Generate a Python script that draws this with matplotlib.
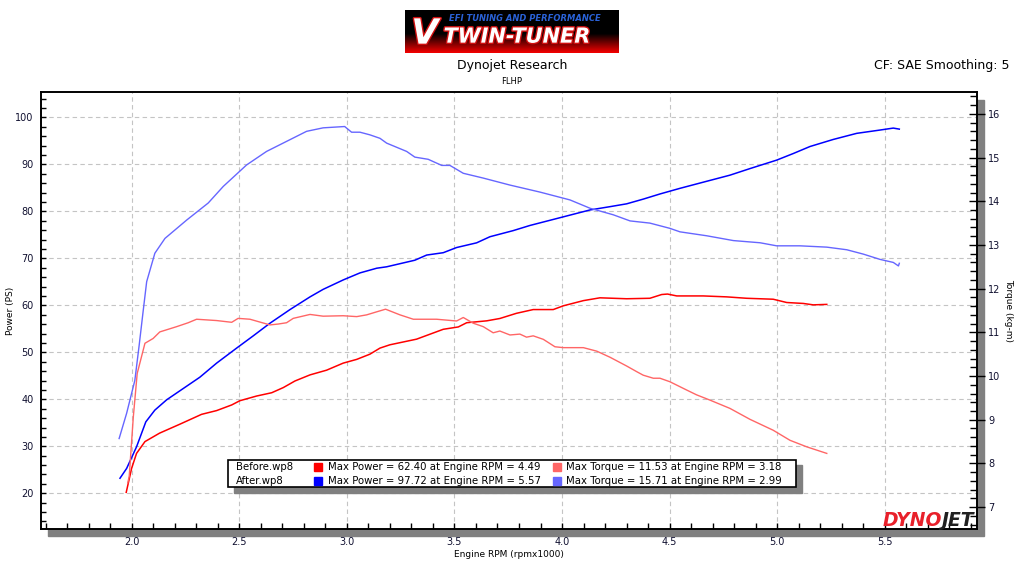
import numpy as np
import matplotlib
matplotlib.use("Agg")
import matplotlib.pyplot as plt
import matplotlib.patheffects as pe
from matplotlib.patches import Rectangle
from matplotlib.ticker import MultipleLocator

# Before run: engine rpm (x1000), power (PS) and torque (kg-m)
before_power_rpm = [1.975, 2.0, 2.023, 2.062, 2.13, 2.224, 2.325, 2.395, 2.465, 2.503,
                    2.581, 2.651, 2.705, 2.759, 2.829, 2.906, 2.983, 3.046, 3.107, 3.154,
                    3.2, 3.324, 3.448, 3.518, 3.557, 3.65, 3.711, 3.788, 3.866, 3.959,
                    4.006, 4.099, 4.176, 4.3, 4.408, 4.463, 4.49, 4.533, 4.656, 4.765,
                    4.858, 4.981, 5.044, 5.121, 5.167, 5.23]
before_power = [20.2, 25.3, 28.5, 31.0, 32.8, 34.7, 36.8, 37.6, 38.8, 39.7,
                40.7, 41.4, 42.5, 43.9, 45.2, 46.2, 47.7, 48.5, 49.6, 50.9,
                51.6, 52.8, 54.9, 55.4, 56.3, 56.7, 57.2, 58.3, 59.1, 59.1,
                59.9, 61.0, 61.6, 61.4, 61.5, 62.3, 62.4, 62.0, 62.0, 61.8,
                61.5, 61.3, 60.6, 60.4, 60.1, 60.2]

before_torque_rpm = [1.982, 1.989, 2.008, 2.026, 2.062, 2.1, 2.131, 2.209, 2.263, 2.302,
                     2.395, 2.465, 2.495, 2.55, 2.643, 2.681, 2.72, 2.751, 2.829, 2.89,
                     2.983, 3.046, 3.092, 3.139, 3.18, 3.247, 3.309, 3.417, 3.51, 3.541,
                     3.587, 3.634, 3.68, 3.711, 3.758, 3.804, 3.835, 3.866, 3.913, 3.967,
                     4.006, 4.099, 4.161, 4.223, 4.3, 4.347, 4.377, 4.424, 4.455, 4.501,
                     4.579, 4.625, 4.687, 4.78, 4.873, 4.981, 5.059, 5.137, 5.23]
before_torque = [7.55, 7.71, 9.07, 10.06, 10.75, 10.86, 11.01, 11.13, 11.22, 11.30,
                 11.27, 11.23, 11.32, 11.30, 11.17, 11.19, 11.22, 11.32, 11.41, 11.37,
                 11.38, 11.36, 11.40, 11.47, 11.53, 11.40, 11.30, 11.30, 11.26, 11.34,
                 11.21, 11.13, 10.99, 11.03, 10.94, 10.96, 10.89, 10.92, 10.84, 10.67,
                 10.65, 10.65, 10.57, 10.43, 10.23, 10.10, 10.02, 9.95, 9.95, 9.87,
                 9.68, 9.57, 9.45, 9.26, 9.01, 8.76, 8.53, 8.38, 8.23]

# After run
after_power_rpm = [1.946, 1.977, 2.023, 2.066, 2.108, 2.163, 2.24, 2.317, 2.395, 2.488,
                   2.565, 2.643, 2.736, 2.829, 2.89, 2.983, 3.061, 3.139, 3.185, 3.316,
                   3.371, 3.448, 3.51, 3.603, 3.665, 3.773, 3.851, 3.944, 4.037, 4.13,
                   4.223, 4.3, 4.377, 4.455, 4.548, 4.672, 4.78, 4.873, 4.997, 5.074,
                   5.152, 5.26, 5.369, 5.477, 5.539, 5.567]
after_power = [23.2, 25.3, 29.9, 35.2, 37.7, 39.9, 42.3, 44.7, 47.7, 50.9,
               53.5, 56.2, 59.1, 61.8, 63.4, 65.4, 66.9, 67.9, 68.2, 69.6,
               70.7, 71.2, 72.3, 73.3, 74.6, 75.9, 77.0, 78.1, 79.2, 80.3,
               81.0, 81.6, 82.6, 83.7, 84.9, 86.4, 87.7, 89.1, 90.9, 92.3,
               93.8, 95.3, 96.6, 97.3, 97.72, 97.5]

after_torque_rpm = [1.942, 1.977, 2.015, 2.035, 2.054, 2.07, 2.108, 2.155, 2.256, 2.356,
                    2.426, 2.534, 2.627, 2.72, 2.813, 2.89, 2.99, 3.022, 3.061, 3.107,
                    3.154, 3.185, 3.278, 3.316, 3.378, 3.441, 3.479, 3.541, 3.634, 3.758,
                    3.897, 4.037, 4.13, 4.238, 4.316, 4.408, 4.501, 4.548, 4.672, 4.796,
                    4.92, 4.997, 5.105, 5.23, 5.323, 5.4, 5.477, 5.539, 5.563, 5.567]
after_torque = [8.57, 9.15, 9.9, 10.7, 11.5, 12.16, 12.81, 13.15, 13.57, 13.96,
                14.34, 14.83, 15.14, 15.37, 15.6, 15.68, 15.71, 15.58, 15.58, 15.52,
                15.44, 15.33, 15.14, 15.01, 14.96, 14.82, 14.82, 14.64, 14.53, 14.37,
                14.21, 14.03, 13.84, 13.69, 13.55, 13.50, 13.38, 13.30, 13.21, 13.10,
                13.05, 12.98, 12.98, 12.95, 12.89, 12.79, 12.67, 12.6, 12.52, 12.58]

# legend summary
run_names = ["Before.wp8", "After.wp8"]
max_power = [62.40, 97.72]
max_power_rpm = [4.49, 5.57]
max_torque = [11.53, 15.71]
max_torque_rpm = [3.18, 2.99]
power_colors = ["#ff0000", "#0000ff"]
torque_colors = ["#ff6666", "#6666ff"]

W, H = 1024.0, 576.0


def fx(x):
    return x / W


def fy(y):
    return 1 - y / H


plt.rcParams['font.family'] = ['DejaVu Sans']
txt_col = "#101030"

fig = plt.figure(figsize=(10.24, 5.76), dpi=100)

# drop shadow behind plot frame
fig.add_artist(Rectangle((fx(48), fy(536)), fx(984) - fx(48), fy(100) - fy(536),
                         transform=fig.transFigure, color="#808080", zorder=-1))

ax = fig.add_axes([fx(41), fy(529), fx(977) - fx(41), fy(92) - fy(529)])
ax.set_facecolor("white")
ax2 = ax.twinx()

ax.plot(before_power_rpm, before_power, color=power_colors[0], lw=1.1)
ax.plot(after_power_rpm, after_power, color=power_colors[1], lw=1.1)
ax2.plot(before_torque_rpm, before_torque, color=torque_colors[0], lw=1.0)
ax2.plot(after_torque_rpm, after_torque, color=torque_colors[1], lw=1.0)

ax.set_xlim(1.579, 5.928)
ax.set_ylim(12.4, 105.4)
ax2.set_ylim(6.5, 16.5)

ax.xaxis.set_major_locator(MultipleLocator(0.5))
ax.xaxis.set_minor_locator(MultipleLocator(0.1))
ax.yaxis.set_major_locator(MultipleLocator(10))
ax.yaxis.set_minor_locator(MultipleLocator(2))
ax2.yaxis.set_major_locator(MultipleLocator(1))
ax2.yaxis.set_minor_locator(MultipleLocator(0.2))
ax.xaxis.set_major_formatter(matplotlib.ticker.FormatStrFormatter("%.1f"))

ax.tick_params(axis="x", which="both", direction="in", length=4.5, width=1,
               labelsize=7, pad=6, colors="black", labelcolor=txt_col)
ax.tick_params(axis="y", which="both", direction="in", length=3.5, width=1,
               labelsize=7, pad=5.5, colors="black", labelcolor=txt_col)
ax2.tick_params(axis="y", which="minor", direction="in", length=5, width=1)
ax2.tick_params(axis="y", which="major", direction="inout", length=12, width=1,
                labelsize=7, pad=2, labelcolor=txt_col)

ax.grid(True, which="major", ls=(0, (4, 3)), color="#c4c4c4", lw=0.8)
for sp in list(ax.spines.values()) + list(ax2.spines.values()):
    sp.set_linewidth(1.2)
    sp.set_color("black")

ax.set_ylabel("Power (PS)", fontsize=6.5, labelpad=0)
ax2.set_ylabel("Torque (kg-m)", fontsize=6.5, rotation=270, labelpad=9)
ax.set_xlabel("Engine RPM (rpmx1000)", fontsize=6.5, labelpad=2)

# titles
fig.text(0.5, fy(66), "Dynojet Research", ha="center", va="center", fontsize=9, color="black")
fig.text(0.5, fy(81), "FLHP", ha="center", va="center", fontsize=6, color="black")
fig.text(fx(1009), fy(66), "CF: SAE Smoothing: 5", ha="right", va="center", fontsize=9, color="black")

# V-Twin Tuner logo
lax = fig.add_axes([fx(405), fy(53), fx(619) - fx(405), fy(10) - fy(53)])
grad = np.zeros((60, 2, 3))
shade = np.clip((np.linspace(0, 1, 60) - 0.55) / 0.45, 0, 1)
grad[:, :, 0] = (shade * 0.95)[:, None]
lax.imshow(grad, aspect="auto", extent=(0, 1, 0, 1))
lax.set_axis_off()
stroke = [pe.withStroke(linewidth=2, foreground="#d01010")]
lax.text(0.03, 0.45, "V", transform=lax.transAxes, fontsize=25, fontweight="bold",
         fontstyle="italic", color="white", va="center", ha="left", path_effects=stroke)
lax.text(0.18, 0.38, "TWIN-TUNER", transform=lax.transAxes, fontsize=15, fontweight="bold",
         fontstyle="italic", color="white", va="center", ha="left", path_effects=stroke)
lax.text(0.56, 0.8, "EFI TUNING AND PERFORMANCE", transform=lax.transAxes, fontsize=6,
         fontweight="bold", fontstyle="italic", color="#2a62d8", va="center", ha="center")

# Dynojet logo bottom right
fig.text(fx(942), fy(521), "DYNO", color="#e8202a", fontsize=13.5, fontweight="heavy",
         fontstyle="italic", va="center", ha="right")
fig.text(fx(941), fy(521), "JET", color="#202020", fontsize=13.5, fontweight="heavy",
         fontstyle="italic", va="center", ha="left")

# summary box
fig.add_artist(Rectangle((fx(234), fy(493)), fx(802) - fx(234), fy(465) - fy(493),
                         transform=fig.transFigure, color="#808080", zorder=4))
fig.add_artist(Rectangle((fx(228), fy(487)), fx(796) - fx(228), fy(460) - fy(487),
                         transform=fig.transFigure, facecolor="white", edgecolor="black",
                         lw=1.2, zorder=5))
rows_y = [466.5, 480.5]
for i in range(len(run_names)):
    y = rows_y[i]
    fig.text(fx(236), fy(y), run_names[i], fontsize=7.3, va="center", ha="left", zorder=6)
    fig.add_artist(Rectangle((fx(314), fy(y + 4)), 8 / W, 8 / H, transform=fig.transFigure,
                             color=power_colors[i], zorder=6))
    fig.text(fx(328), fy(y), "Max Power = %.2f at Engine RPM = %.2f" % (max_power[i], max_power_rpm[i]),
             fontsize=7.3, va="center", ha="left", zorder=6)
    fig.add_artist(Rectangle((fx(553), fy(y + 4)), 8 / W, 8 / H, transform=fig.transFigure,
                             color=torque_colors[i], zorder=6))
    fig.text(fx(566), fy(y), "Max Torque = %.2f at Engine RPM = %.2f" % (max_torque[i], max_torque_rpm[i]),
             fontsize=7.3, va="center", ha="left", zorder=6)

fig.savefig("out.png", dpi=100)
